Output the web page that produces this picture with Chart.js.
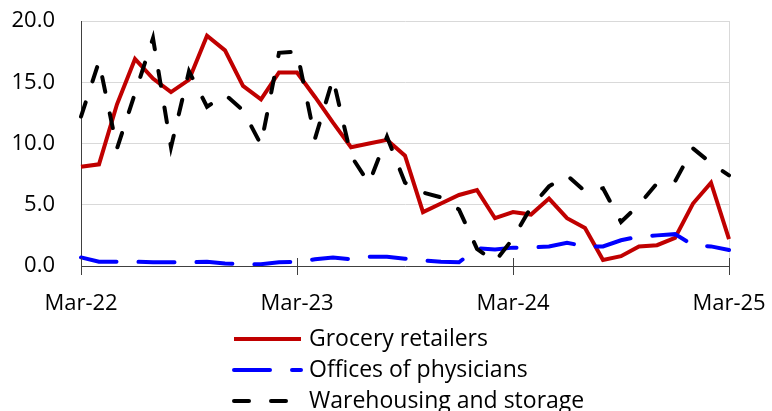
<!DOCTYPE html>
<html>
<head>
<meta charset="utf-8">
<script src="https://cdn.jsdelivr.net/npm/chart.js@4/dist/chart.umd.min.js"></script>
<style>
  html, body { margin: 0; padding: 0; background: #fff; }
  #wrap { width: 772px; height: 411px; }
</style>
</head>
<body>
<div id="wrap"><canvas id="chart" width="772" height="411"></canvas></div>
<script>
// months, Mar-22 .. Mar-25
const labels = [
    'Mar-22', 'Apr-22', 'May-22', 'Jun-22', 'Jul-22', 'Aug-22', 'Sep-22', 'Oct-22', 'Nov-22', 'Dec-22', 'Jan-23', 'Feb-23',
    'Mar-23', 'Apr-23', 'May-23', 'Jun-23', 'Jul-23', 'Aug-23', 'Sep-23', 'Oct-23', 'Nov-23', 'Dec-23', 'Jan-24', 'Feb-24',
    'Mar-24', 'Apr-24', 'May-24', 'Jun-24', 'Jul-24', 'Aug-24', 'Sep-24', 'Oct-24', 'Nov-24', 'Dec-24', 'Jan-25', 'Feb-25',
    'Mar-25'
];

const grocery = [8.1, 8.3, 13.2, 16.9, 15.3, 14.2, 15.2, 18.8, 17.6, 14.7, 13.6, 15.8,
    15.8, 13.8, 11.7, 9.7, 10.0, 10.3, 9.0, 4.4, 5.1, 5.8, 6.2, 3.9,
    4.4, 4.2, 5.5, 3.9, 3.1, 0.5, 0.8, 1.6, 1.7, 2.3, 5.1, 6.8,
    2.2];

const physicians = [0.7, 0.35, 0.35, 0.35, 0.3, 0.3, 0.3, 0.35, 0.2, 0.15, 0.15, 0.3,
    0.35, 0.55, 0.7, 0.55, 0.75, 0.75, 0.6, 0.45, 0.35, 0.3, 1.45, 1.35,
    1.5, 1.5, 1.6, 1.9, 1.6, 1.6, 2.1, 2.4, 2.5, 2.6, 1.7, 1.6,
    1.3];

const warehousing = [12.2, 16.7, 9.6, 14.1, 18.6, 9.7, 15.9, 13.0, 14.0, 12.7, 9.9, 17.4,
    17.5, 10.4, 15.3, 9.0, 6.75, 10.55, 6.8, 6.0, 5.6, 4.6, 1.4, 0.35,
    2.25, 4.8, 6.5, 7.4, 6.1, 6.35, 3.6, 5.0, 6.75, 6.9, 9.6, 8.4,
    7.4];

const seriesNames = ['Grocery retailers', 'Offices of physicians', 'Warehousing and storage'];
const yTicks = [0, 5, 10, 15, 20];

const FONT = '"Open Sans", "Liberation Sans", sans-serif';
const AXIS = '#404040';
const GRID = '#D9D9D9';

// tick marks crossing the x axis + legend stacked under the chart
const extras = {
    id: 'extras',
    afterDatasetsDraw(chart) {
        const ctx = chart.ctx;
        const x = chart.scales.x;
        const area = chart.chartArea;
        ctx.save();
        ctx.strokeStyle = AXIS;
        ctx.lineWidth = 1;
        labels.forEach((l, i) => {
            if (i % 12 !== 0) return;
            const px = Math.round(x.getPixelForValue(i)) + 0.5;
            ctx.beginPath();
            ctx.moveTo(px, area.bottom - 8);
            ctx.lineTo(px, area.bottom + 9);
            ctx.stroke();
        });
        ctx.restore();
    },
    afterDraw(chart) {
        const ctx = chart.ctx;
        const left = 234, lineLen = 67, textX = 309;
        const rows = [339, 370, 401];
        ctx.save();
        ctx.font = '23px ' + FONT;
        ctx.textBaseline = 'middle';
        chart.data.datasets.forEach((ds, i) => {
            const y = rows[i];
            ctx.strokeStyle = ds.borderColor;
            ctx.lineWidth = ds.borderWidth;
            ctx.lineCap = ds.borderDash.length ? 'round' : 'butt';
            ctx.setLineDash(ds.borderDash);
            ctx.beginPath();
            ctx.moveTo(left, y);
            ctx.lineTo(left + lineLen, y);
            ctx.stroke();
            ctx.setLineDash([]);
            ctx.fillStyle = '#000';
            ctx.fillText(ds.label, textX, y);
        });
        ctx.restore();
    }
};

new Chart(document.getElementById('chart').getContext('2d'), {
    type: 'line',
    data: {
        labels: labels,
        datasets: [
            {
                label: seriesNames[0], data: grocery, borderColor: '#C00000', borderWidth: 4,
                borderDash: [], pointRadius: 0, tension: 0, order: 2
            },
            {
                label: seriesNames[1], data: physicians, borderColor: '#0000FF', borderWidth: 4,
                borderDash: [36, 22], borderCapStyle: 'round', pointRadius: 0, tension: 0, order: 1
            },
            {
                label: seriesNames[2], data: warehousing, borderColor: '#000000', borderWidth: 4,
                borderDash: [15, 22], borderCapStyle: 'round', pointRadius: 0, tension: 0, order: 0
            }
        ]
    },
    options: {
        responsive: false,
        animation: false,
        devicePixelRatio: 1,
        layout: { padding: { left: 0, top: 21, right: 43, bottom: 85 } },
        plugins: { legend: { display: false }, tooltip: { enabled: false } },
        scales: {
            x: {
                offset: false,
                afterFit: (scale) => { scale.height = 60; },
                grid: {
                    drawOnChartArea: true,
                    tickLength: 25,
                    color: (c) => (c.index === labels.length - 1 ? GRID : 'transparent'),
                    tickColor: 'transparent'
                },
                border: { color: AXIS, width: 1 },
                ticks: {
                    autoSkip: false,
                    maxRotation: 0,
                    padding: 0,
                    color: '#000',
                    font: { family: FONT, size: 22 },
                    callback: (v, i) => (i % 12 === 0 ? labels[i] : '')
                }
            },
            y: {
                min: yTicks[0],
                max: yTicks[yTicks.length - 1],
                afterFit: (scale) => { scale.width = 81; },
                afterBuildTicks: (scale) => { scale.ticks = yTicks.map(v => ({ value: v })); },
                grid: {
                    tickLength: 26,
                    tickColor: 'transparent',
                    color: (c) => (c.tick.value === 0 ? 'transparent' : GRID)
                },
                border: { color: AXIS, width: 1 },
                ticks: {
                    padding: 0,
                    color: '#000',
                    font: { family: FONT, size: 22 },
                    callback: (v) => v.toFixed(1)
                }
            }
        }
    },
    plugins: [extras]
});
</script>
</body>
</html>
